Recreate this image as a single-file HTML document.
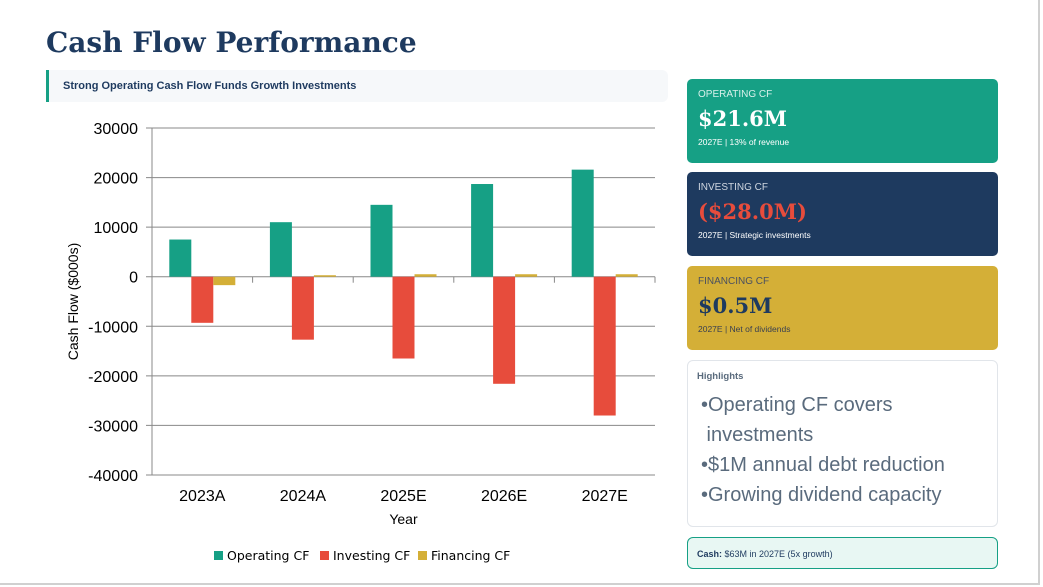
<!DOCTYPE html>
<html><head><meta charset="utf-8"><style>
body{margin:0;width:1043px;height:587px;background:#fff;font-family:"Liberation Sans",sans-serif;position:relative;overflow:hidden}
.frame{position:absolute;left:0;top:0;width:1040px;height:585px;border-right:2px solid #d0d0d0;border-bottom:2px solid #d0d0d0;box-sizing:border-box}
h1{position:absolute;left:46px;top:26px;margin:0;font-family:"DejaVu Serif",serif;font-weight:bold;font-size:28px;color:#1e3a5f}
.sub{position:absolute;left:46px;top:70px;width:622px;height:32px;background:#f6f8fa;border-left:3px solid #16a085;border-radius:0 6px 6px 0;box-sizing:border-box;font-size:11px;font-weight:bold;color:#1e3a5f;padding:10px 0 0 14px}
.card{position:absolute;left:687px;width:311px;height:84px;border-radius:5px;box-sizing:border-box;padding:10px 11px}
.card .l{font-size:10px;text-transform:uppercase}
.card .v{font-family:"DejaVu Serif",serif;font-weight:bold;font-size:21px;margin-top:6px}
.card .s{font-size:8.5px;margin-top:6px}
.hl{position:absolute;left:687px;top:360px;width:311px;height:167px;border:1px solid #e1e5ea;border-radius:6px;box-sizing:border-box;padding:10px 9px;color:#5a6b7d}
.hl .t{font-size:9.5px;font-weight:bold}
.hl ul{margin:8px 0 0 0;padding:0 0 0 4px;list-style:none;font-size:20px;line-height:30px}
.cash{position:absolute;left:687px;top:537px;width:311px;height:32px;background:#e8f7f3;border:1px solid #16a085;border-radius:6px;box-sizing:border-box;font-size:9px;color:#1e3a5f;padding:11px 9px}
</style></head><body>
<div class="frame"></div>
<h1>Cash Flow Performance</h1>
<div class="sub">Strong Operating Cash Flow Funds Growth Investments</div>
<svg id="chart" width="680" height="587" style="position:absolute;left:0;top:0"></svg>
<div class="card" style="top:79px;background:#16a085;color:#fff"><div class="l" style="color:#d8f0ea">Operating CF</div><div class="v">$21.6M</div><div class="s">2027E | 13% of revenue</div></div>
<div class="card" style="top:172px;background:#1e3a5f;color:#fff"><div class="l" style="color:#cfd6e0">Investing CF</div><div class="v" style="color:#e74c3c">($28.0M)</div><div class="s">2027E | Strategic investments</div></div>
<div class="card" style="top:266px;background:#d4af37;color:#1e3a5f"><div class="l" style="color:#4a5060">Financing CF</div><div class="v">$0.5M</div><div class="s" style="color:#3a4050">2027E | Net of dividends</div></div>
<div class="hl"><div class="t">Highlights</div><ul><li>•Operating CF covers<br>&nbsp;investments</li><li>•$1M annual debt reduction</li><li>•Growing dividend capacity</li></ul></div>
<div class="cash"><b>Cash:</b> $63M in 2027E (5x growth)</div>
<script>
const categories=["2023A","2024A","2025E","2026E","2027E"];
const operating=[7500,11000,14500,18700,21600];
const investing=[-9300,-12700,-16500,-21600,-28000];
const financing=[-1700,300,500,500,500];
const yTicks=[30000,20000,10000,0,-10000,-20000,-30000,-40000];
const seriesNames=["Operating CF","Investing CF","Financing CF"];
const colors=["#16a085","#e74c3c","#d4af37"];
const svg=document.getElementById('chart');const NS="http://www.w3.org/2000/svg";
const X0=152,X1=655,Y0=128,Y1=475,ymax=30000,ymin=-40000;
const y=v=>Y0+(ymax-v)/(ymax-ymin)*(Y1-Y0);
const band=(X1-X0)/categories.length;
function mk(t,a,txt){const e=document.createElementNS(NS,t);for(const k in a)e.setAttribute(k,a[k]);if(txt!==undefined)e.textContent=txt;svg.appendChild(e);return e;}
yTicks.forEach(t=>{const g=mk('line',{x1:X0-6,x2:X1,y1:y(t),y2:y(t),stroke:'#888','stroke-width':1});

const l=mk('text',{x:X0-14,y:y(t)+6,'text-anchor':'end','font-size':16,fill:'#000'},t);
});
const ax=mk('line',{x1:X0,x2:X0,y1:Y0,y2:Y1,stroke:'#888'});
for(let i=0;i<=categories.length;i++){const tk=mk('line',{x1:X0+i*band,x2:X0+i*band,y1:y(0),y2:y(0)+6,stroke:'#888'});}
const series=[operating,investing,financing];const bw=22;
categories.forEach((c,i)=>{const cx=X0+band*(i+0.5);
series.forEach((s,j)=>{const v=s[i];const r=mk('rect',{x:cx-1.5*bw+j*bw,y:Math.min(y(v),y(0)),width:bw,height:Math.abs(y(v)-y(0)),fill:colors[j]});
});
const t=mk('text',{x:cx,y:501,'text-anchor':'middle','font-size':16},c);});
const xt=mk('text',{x:(X0+X1)/2,y:524,'text-anchor':'middle','font-size':14},'Year');
const yt=mk('text',{x:0,y:0,'text-anchor':'middle','font-size':14,transform:'translate(78,'+((Y0+Y1)/2)+') rotate(-90)'},'Cash Flow ($000s)');
const lx=[214,320,418];
seriesNames.forEach((n,j)=>{const r=mk('rect',{x:lx[j],y:551,width:9,height:9,fill:colors[j]});
const t=mk('text',{x:lx[j]+13,y:560,'font-size':12.5,'font-family':'DejaVu Sans, sans-serif'},n);});
</script>
</body></html>
